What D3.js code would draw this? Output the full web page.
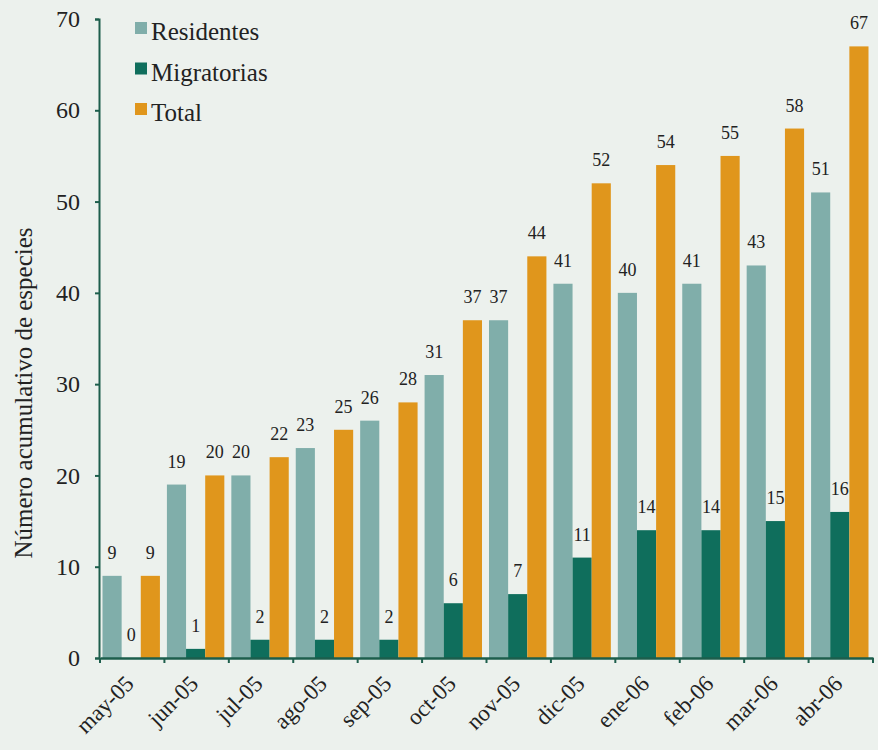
<!DOCTYPE html>
<html><head><meta charset="utf-8">
<script src="https://cdn.jsdelivr.net/npm/d3@7"></script>
<style>body{margin:0;background:#ecf1ed;} svg{display:block;}</style>
</head><body>
<svg id="c" width="878" height="750"></svg>
<script>
const categories = ["may-05","jun-05","jul-05","ago-05","sep-05","oct-05","nov-05","dic-05","ene-06","feb-06","mar-06","abr-06"];
const residentes = [9,19,20,23,26,31,37,41,40,41,43,51];
const migratorias = [0,1,2,2,2,6,7,11,14,14,15,16];
const total = [9,20,22,25,28,37,44,52,54,55,58,67];
const seriesNames = ["Residentes","Migratorias","Total"];
const yTicks = [0,10,20,30,40,50,60,70];

const colors = {Residentes:"#80aeaa", Migratorias:"#0f6e5c", Total:"#e0961c"};
const font = "'Liberation Serif','DejaVu Serif',serif";
const svg = d3.select("#c");
svg.append("rect").attr("width",878).attr("height",750).attr("fill","#ecf1ed");

const mLeft = 100, mRight = 873, mTop = 19, mBottom = 658;
const x = d3.scaleBand().domain(categories).range([mLeft, mRight]).paddingInner(0).paddingOuter(0);
const y = d3.scaleLinear().domain([0,70]).range([mBottom, mTop]);
const sub = d3.scaleBand().domain(seriesNames).range([2.5, x.bandwidth()-4.5]).padding(0);

const data = {Residentes: residentes, Migratorias: migratorias, Total: total};

const g = svg.append("g");
seriesNames.forEach(s => {
  g.selectAll(null).data(categories).enter().append("rect")
    .attr("x", (c) => x(c) + sub(s))
    .attr("width", sub.bandwidth())
    .attr("y", (c,i) => y(data[s][i]))
    .attr("height", (c,i) => y(0) - y(data[s][i]))
    .attr("fill", colors[s]);
  g.selectAll(null).data(categories).enter().append("text")
    .attr("x", (c) => x(c) + sub(s) + sub.bandwidth()/2)
    .attr("y", (c,i) => y(data[s][i]) - 17)
    .attr("text-anchor","middle")
    .attr("font-family", font).attr("font-size", 18).attr("fill","#222")
    .text((c,i) => data[s][i]);
});

// axes
const axisColor = "#1d5e4c";
const yAxis = svg.append("g").attr("transform", `translate(${mLeft-1},0)`)
  .call(d3.axisLeft(y).tickValues(yTicks).tickSize(4).tickPadding(15));
yAxis.select(".domain").attr("stroke", axisColor).attr("stroke-width",2);
yAxis.selectAll(".tick line").attr("stroke", axisColor).attr("stroke-width",2);
yAxis.selectAll("text").attr("font-family", font).attr("font-size", 24).attr("fill","#222");

const xAxis = svg.append("g").attr("transform", `translate(0,${mBottom})`)
  .call(d3.axisBottom(x).tickSize(0).tickPadding(0));
xAxis.select(".domain").attr("stroke", axisColor).attr("stroke-width",2.5);
xAxis.selectAll(".tick text")
  .attr("font-family", font).attr("font-size", 23).attr("fill","#222")
  .attr("text-anchor","end")
  .attr("y",0).attr("dy",0)
  .attr("transform","translate(3,27) rotate(-45)");
// band boundary ticks
svg.append("g").selectAll("line").data(categories.concat(["__end"])).enter().append("line")
  .attr("x1", (c) => c==="__end" ? mRight : x(c))
  .attr("x2", (c) => c==="__end" ? mRight : x(c))
  .attr("y1", mBottom).attr("y2", mBottom+5)
  .attr("stroke", axisColor).attr("stroke-width",2);

// y label
svg.append("text").attr("transform","translate(32,393) rotate(-90)")
  .attr("text-anchor","middle").attr("font-family", font).attr("font-size", 25).attr("fill","#222")
  .text("Número acumulativo de especies");

// legend
const leg = svg.append("g");
seriesNames.forEach((s,i) => {
  leg.append("rect").attr("x",135).attr("y", 22 + i*40.5).attr("width",12).attr("height",12).attr("fill",colors[s]);
  leg.append("text").attr("x",151).attr("y", 40 + i*40.5).attr("font-family", font).attr("font-size", 25).attr("fill","#222").text(s);
});
</script>
</body></html>
